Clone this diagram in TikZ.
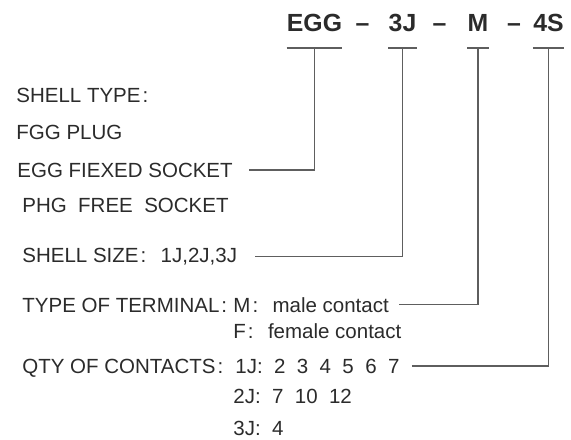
\documentclass[tikz,border=0pt]{standalone}
\usepackage{fontspec}
\setmainfont{Liberation Sans}
\definecolor{inkgray}{HTML}{2B2B2B}
\definecolor{linegray}{HTML}{5E5E5E}
\newcommand{\cn}{\hspace{0.1em}:\hspace{0.7em}}
\begin{document}
\begin{tikzpicture}[x=0.5pt, y=-0.5pt,
    code/.style={anchor=base, inner sep=0pt, text=inkgray, font=\fontsize{12.4}{14}\selectfont\bfseries},
    label/.style={anchor=base west, inner sep=0pt, text=inkgray, font=\fontsize{10.25}{12}\selectfont},
    bar/.style={draw=linegray, line width=0.8pt},
    link/.style={draw=linegray, line width=0.65pt}]
    \useasboundingbox (0, 0) rectangle (571, 439);
    % Part number
    \node[code] (egg) at (314.5, 32) {EGG};
    \node[code] (dasha) at (362.5, 32) {--};
    \node[code] (size) at (402.5, 32) {3J};
    \node[code] (dashb) at (439.5, 32) {--};
    \node[code] (term) at (478, 32) {M};
    \node[code] (dashc) at (514, 32) {--};
    \node[code] (qty) at (548.5, 32) {4S};
    % Bars under the fields
    \foreach \f in {egg, size, term, qty}
    {
        \draw[bar] ([yshift=-8pt]\f.base west) -- ([yshift=-8pt]\f.base east);
        \coordinate (\f-bar) at ([yshift=-8pt]\f.base);
    }
    % Shell type
    \node[label] (typehead) at (16, 102) {SHELL TYPE\cn};
    \node[label] (plug) at (16, 139) {FGG PLUG};
    \node[label] (fixed) at (17, 177) {EGG FIEXED SOCKET};
    \node[label] (free) at (22, 212) {PHG\ \ FREE\ \ SOCKET};
    % Shell size
    \node[label] (sizes) at (22, 262) {SHELL SIZE\cn 1J,2J,3J};
    % Terminal
    \node[label] (termhead) at (22, 312) {TYPE OF TERMINAL\hspace{0.1em}:};
    \node[label] (male) at (233, 312) {M\cn male contact};
    \node[label] (female) at (233, 338) {F\cn female contact};
    % Contacts
    \node[label] (qtyhead) at (22, 373) {QTY OF CONTACTS\hspace{0.1em}:};
    \node[label] (conta) at (235, 373) {1J:\ \ 2\ \ 3\ \ 4\ \ 5\ \ 6\ \ 7};
    \node[label] (contb) at (233, 403) {2J:\ \ 7\ \ 10\ \ 12};
    \node[label] (contc) at (233, 435) {3J:\ \ 4};
    % Leaders
    \draw[link] ([xshift=8pt]fixed.east) -| (egg-bar);
    \draw[link] ([xshift=9pt]sizes.east) -| (size-bar);
    \draw[link] ([xshift=5pt]male.east) -| (term-bar);
    \draw[link] ([xshift=6pt]conta.east) -| (qty-bar);
\end{tikzpicture}
\end{document}
